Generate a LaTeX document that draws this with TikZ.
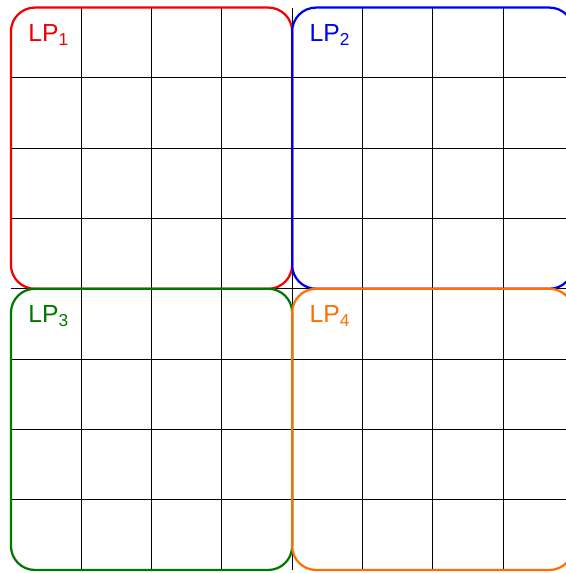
\documentclass[tikz,border=0pt]{standalone}
\usepackage{fontspec}
\setmainfont{Liberation Sans}
\usetikzlibrary{calc}
\definecolor{lpred}{RGB}{240,0,0}
\definecolor{lpblue}{RGB}{0,0,240}
\definecolor{lpgreen}{RGB}{0,120,0}
\definecolor{lporange}{RGB}{255,110,0}

\begin{document}
\begin{tikzpicture}[line width=0.45pt]
  \useasboundingbox (-0.156,-0.043) rectangle (7.895,8.108);
  \tikzset{lpbox/.style={line width=0.9pt, rounded corners=0.34cm}}
  % inner grid lines only
  \foreach \i in {1,...,7} {
    \draw[black] (\i,0) -- (\i,8);
    \draw[black] (0,\i) -- (8,\i);
  }
  \coordinate (A) at (0,8);
  \coordinate (B) at (4,8);
  \coordinate (C) at (0,4);
  \coordinate (D) at (4,4);
  \draw[lpbox, lpred] (C) rectangle ++(4,4);
  \draw[lpbox, lpblue] (D) rectangle ++(4,4);
  \draw[lpbox, lpgreen] (0,0) rectangle (D);
  \draw[lpbox, lporange] (4,0) rectangle ++(4,4);
  \node[lpred, anchor=base west, inner sep=0pt] (lp1) at ($(A)+(0.24,-0.48)$) {LP\textsubscript{1}};
  \node[lpblue, anchor=base west, inner sep=0pt] (lp2) at ($(B)+(0.24,-0.48)$) {LP\textsubscript{2}};
  \node[lpgreen, anchor=base west, inner sep=0pt] (lp3) at ($(C)+(0.24,-0.48)$) {LP\textsubscript{3}};
  \node[lporange, anchor=base west, inner sep=0pt] (lp4) at ($(D)+(0.24,-0.48)$) {LP\textsubscript{4}};
\end{tikzpicture}
\end{document}
